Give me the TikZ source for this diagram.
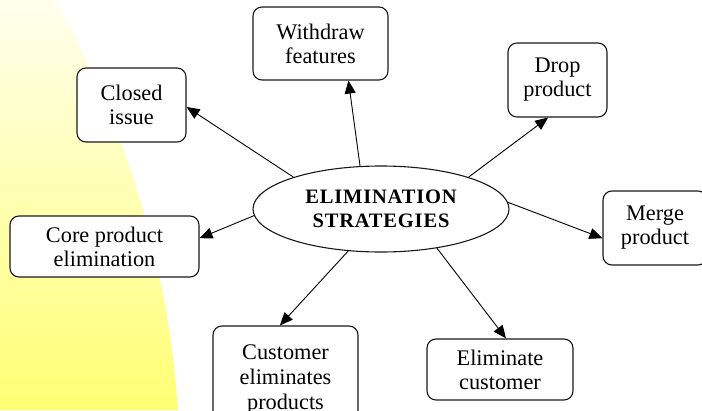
\documentclass[tikz,border=0pt]{standalone}
\usepackage{fontspec}
\setmainfont{Liberation Serif}
\newfontfamily\hubfont[LetterSpace=4]{Liberation Serif}
\usetikzlibrary{arrows.meta,shapes.geometric}

\begin{document}
\begin{tikzpicture}[x=1pt,y=-1pt,
  box/.style={draw=black!90, line width=1.1pt, rounded corners=9pt, fill=white,
    align=center, inner sep=0pt, font=\fontsize{22.3}{24}\selectfont},
  hub/.style={ellipse, draw=black!90, line width=1.1pt, fill=white, inner sep=0pt,
    minimum width=256pt, minimum height=86pt, align=center,
    font=\hubfont\bfseries\fontsize{20.5}{24}\selectfont},
  link/.style={line width=0.9pt, -{Triangle[length=13pt,width=11pt]}}]

\useasboundingbox (0,0) rectangle (702,410);
\fill[white] (0,0) rectangle (702,410);

% yellow backdrop on the left, bounded by a wide arc
\shade[top color=yellow!7, bottom color=yellow!55]
  (0,0) -- (55,0) .. controls (126.2,126.1) and (168.1,265.5) .. (178,410)
  -- (0,410) -- cycle;

% central topic
\node[hub] (hub) at (381,209) {ELIMINATION\\STRATEGIES};

% surrounding strategies
\node[box, minimum width=135pt, minimum height=73pt] (withdraw) at (320.5,43.5) {Withdraw\\features};
\node[box, minimum width=109pt, minimum height=74pt] (closed) at (131.5,105) {Closed\\issue};
\node[box, minimum width=99pt, minimum height=74pt] (drop) at (557.5,80) {Drop\\product};
\node[box, minimum width=104pt, minimum height=74pt] (merge) at (655,228) {Merge\\product};
\node[box, minimum width=189pt, minimum height=61pt] (core) at (104.5,246.5) {Core product\\elimination};
\node[box, minimum width=145pt, minimum height=106pt,
      font=\fontsize{22.3}{25}\selectfont] (customer) at (285.5,379) {Customer\\eliminates\\products};
\node[box, minimum width=146pt, minimum height=61pt] (elim) at (500,369.5) {Eliminate\\customer};

% connectors from the hub
\draw[link] (hub.160) -- (closed.-2);
\draw[link] (hub.116) -- (withdraw.-53);
\draw[link] (hub.20) -- (drop.-104);
\draw[link] (hub.3) -- (merge.191);
\draw[link] (hub.183) -- (core.5);
\draw[link] (hub.-128) -- (customer.96);
\draw[link] (hub.-35) -- (elim.79);
\end{tikzpicture}
\end{document}
